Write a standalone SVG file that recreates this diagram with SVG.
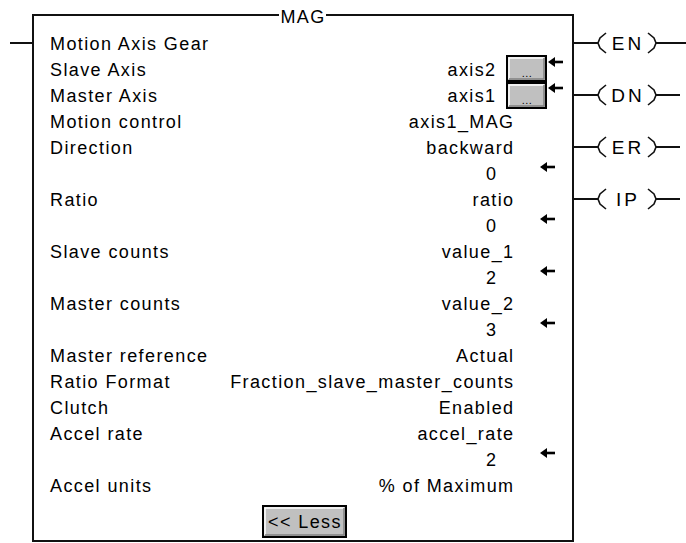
<svg xmlns="http://www.w3.org/2000/svg" width="686" height="543" viewBox="0 0 686 543">
<style>
text{font-family:"Liberation Sans",Arial,sans-serif;font-size:18px;letter-spacing:1.4px;fill:#000}
.r{text-anchor:end}
.m{text-anchor:middle}
.c{font-size:19px;letter-spacing:3px}
.w{stroke:#111;stroke-width:2;fill:none}
.coil{stroke:#111;stroke-width:1.6;fill:none}
.btn{fill:#c0c0c0;stroke:#000;stroke-width:2}
.hl{stroke:#fff;stroke-width:1.5;fill:none}
.sh{stroke:#808080;stroke-width:1.5;fill:none}
.arr{fill:#000}
</style>
<defs>
<g id="arrow"><polygon points="0,0 7,-5 7,5"/><rect x="6" y="-1.3" width="9" height="2.6"/></g>
</defs>
<g id="connectors">
<line class="w" x1="10" y1="43" x2="33" y2="43"/>
<line class="w" x1="573" y1="43" x2="598" y2="43"/>
<line class="w" x1="656" y1="43" x2="686" y2="43"/>
<line class="w" x1="573" y1="95" x2="598" y2="95"/>
<line class="w" x1="656" y1="95" x2="680" y2="95"/>
<line class="w" x1="573" y1="147" x2="598" y2="147"/>
<line class="w" x1="656" y1="147" x2="680" y2="147"/>
<line class="w" x1="573" y1="199" x2="598" y2="199"/>
<line class="w" x1="656" y1="199" x2="680" y2="199"/>
</g>
<g id="mag-block">
<path class="w" d="M279,15 H33 V541 H573 V15 H326"/>
<text class="m" x="303" y="23">MAG</text>
<text x="50" y="50">Motion Axis Gear</text>
<text x="50" y="76">Slave Axis</text>
<text x="50" y="102">Master Axis</text>
<text x="50" y="128">Motion control</text>
<text x="50" y="154">Direction</text>
<text x="50" y="206">Ratio</text>
<text x="50" y="258">Slave counts</text>
<text x="50" y="310">Master counts</text>
<text x="50" y="362">Master reference</text>
<text x="50" y="388">Ratio Format</text>
<text x="50" y="414">Clutch</text>
<text x="50" y="440">Accel rate</text>
<text x="50" y="492">Accel units</text>
<text class="r" x="496.5" y="76">axis2</text>
<text class="r" x="496.5" y="102">axis1</text>
<text class="r" x="514.5" y="128">axis1_MAG</text>
<text class="r" x="514.5" y="154">backward</text>
<text class="r" x="497.5" y="180">0</text>
<text class="r" x="514.5" y="206">ratio</text>
<text class="r" x="497.5" y="232">0</text>
<text class="r" x="514.5" y="258">value_1</text>
<text class="r" x="497.5" y="284">2</text>
<text class="r" x="514.5" y="310">value_2</text>
<text class="r" x="497.5" y="336">3</text>
<text class="r" x="514.5" y="362">Actual</text>
<text class="r" x="514.5" y="388">Fraction_slave_master_counts</text>
<text class="r" x="514.5" y="414">Enabled</text>
<text class="r" x="514.5" y="440">accel_rate</text>
<text class="r" x="497.5" y="466">2</text>
<text class="r" x="514.5" y="492">% of Maximum</text>
<g id="btn-slave">
<rect class="btn" x="507" y="56" width="39" height="25"/>
<path class="hl" d="M509,79 V58 H544"/>
<path class="sh" d="M509,79 H544 V58"/>
<text class="m" x="527" y="77" style="font-size:11px;letter-spacing:0.5px">...</text>
</g>
<g id="btn-master">
<rect class="btn" x="507" y="83" width="39" height="25"/>
<path class="hl" d="M509,106 V85 H544"/>
<path class="sh" d="M509,106 H544 V85"/>
<text class="m" x="527" y="104" style="font-size:11px;letter-spacing:0.5px">...</text>
</g>
<g class="arr">
<use href="#arrow" x="548" y="62"/>
<use href="#arrow" x="548" y="88"/>
<use href="#arrow" x="540" y="167"/>
<use href="#arrow" x="540" y="219"/>
<use href="#arrow" x="540" y="271"/>
<use href="#arrow" x="540" y="323"/>
<use href="#arrow" x="540" y="453"/>
</g>
<g id="btn-less">
<rect class="btn" x="263" y="506" width="83" height="31"/>
<path class="hl" d="M265,535 V508 H344"/>
<path class="sh" d="M265,535 H344 V508"/>
<text class="m" x="305" y="528">&lt;&lt; Less</text>
</g>
</g>
<g id="coil-en">
<polyline class="coil" points="606,33 600,38 598,43 600,48 606,53"/>
<polyline class="coil" points="648,33 654,38 656,43 654,48 648,53"/>
<text class="m c" x="628" y="50">EN</text>
</g>
<g id="coil-dn">
<polyline class="coil" points="606,85 600,90 598,95 600,100 606,105"/>
<polyline class="coil" points="648,85 654,90 656,95 654,100 648,105"/>
<text class="m c" x="628" y="102">DN</text>
</g>
<g id="coil-er">
<polyline class="coil" points="606,137 600,142 598,147 600,152 606,157"/>
<polyline class="coil" points="648,137 654,142 656,147 654,152 648,157"/>
<text class="m c" x="628" y="154">ER</text>
</g>
<g id="coil-ip">
<polyline class="coil" points="606,189 600,194 598,199 600,204 606,209"/>
<polyline class="coil" points="648,189 654,194 656,199 654,204 648,209"/>
<text class="m c" x="628" y="206">IP</text>
</g>
</svg>
